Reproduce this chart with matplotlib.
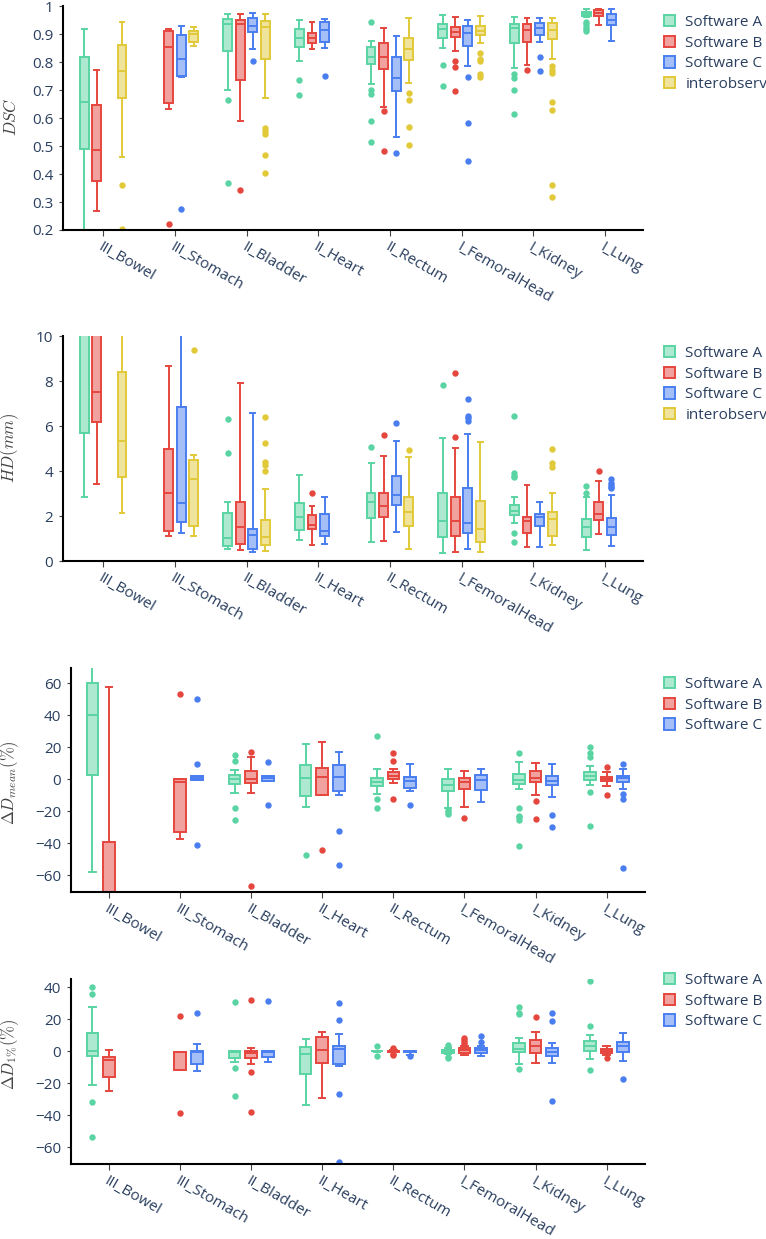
import matplotlib
matplotlib.use("Agg")
import matplotlib.pyplot as plt
from matplotlib.patches import Patch
from matplotlib.colors import to_rgba

plt.rcParams['font.family'] = ['Open Sans', 'DejaVu Sans']

categories = ["III_Bowel", "III_Stomach", "II_Bladder", "II_Heart",
              "II_Rectum", "I_FemoralHead", "I_Kidney", "I_Lung"]
names4 = ["Software A", "Software B", "Software C", "interobserv"]
colors = ["#5ad4a2", "#e5463e", "#4a7ef0", "#e2c93a"]

# each box: (lower whisker, q1, median, q3, upper whisker)
# ---- DSC ----
dsc_a = [(0.05, 0.489, 0.656, 0.817, 0.917), None,
         (0.700, 0.840, 0.935, 0.952, 0.972), (0.804, 0.852, 0.885, 0.918, 0.951),
         (0.720, 0.793, 0.819, 0.855, 0.875), (0.849, 0.887, 0.917, 0.936, 0.968),
         (0.777, 0.867, 0.920, 0.936, 0.962), (0.960, 0.964, 0.971, 0.979, 0.989)]
dsc_a_out = [[], [], [0.664, 0.367], [0.735, 0.682], [0.944, 0.700, 0.685, 0.59, 0.515],
             [0.788, 0.714], [0.757, 0.742, 0.700, 0.613], [0.944, 0.935, 0.926, 0.918, 0.91]]
dsc_b = [(0.269, 0.375, 0.486, 0.646, 0.771), (0.632, 0.655, 0.852, 0.911, 0.917),
         (0.590, 0.736, 0.935, 0.950, 0.972), (0.845, 0.867, 0.885, 0.905, 0.942),
         (0.640, 0.774, 0.819, 0.869, 0.920), (0.840, 0.890, 0.908, 0.926, 0.960),
         (0.789, 0.873, 0.914, 0.935, 0.956), (0.932, 0.964, 0.976, 0.986, 0.988)]
dsc_b_out = [[], [0.221], [0.342], [], [0.625, 0.483], [0.805, 0.782, 0.696], [0.771], []]
dsc_c = [None, (0.748, 0.750, 0.810, 0.898, 0.930),
         (0.845, 0.907, 0.929, 0.957, 0.975), (0.851, 0.873, 0.914, 0.943, 0.955),
         (0.533, 0.696, 0.744, 0.819, 0.894), (0.786, 0.857, 0.905, 0.930, 0.950),
         (0.870, 0.896, 0.920, 0.940, 0.956), (0.876, 0.932, 0.950, 0.971, 0.989)]
dsc_c_out = [[], [0.276], [0.804], [0.751], [0.474], [0.745, 0.583, 0.448], [0.817, 0.768], []]
dsc_d = [(0.460, 0.670, 0.769, 0.861, 0.942), (0.857, 0.870, 0.899, 0.912, 0.924),
         (0.670, 0.811, 0.926, 0.948, 0.970), None,
         (0.724, 0.807, 0.845, 0.887, 0.956), (0.869, 0.896, 0.912, 0.930, 0.965),
         (0.810, 0.881, 0.914, 0.940, 0.958), None]
dsc_d_out = [[0.360, 0.202], [], [0.563, 0.553, 0.543, 0.467, 0.405], [],
             [0.688, 0.664, 0.569, 0.502], [0.831, 0.810, 0.804, 0.757, 0.748],
             [0.786, 0.771, 0.760, 0.658, 0.629, 0.361, 0.319], []]

# ---- HD (mm) ----
hd_a = [(2.86, 5.70, 11.0, 14.5, 22.0), None,
        (0.53, 0.67, 1.04, 2.12, 2.61), (0.95, 1.38, 1.96, 2.56, 3.81),
        (0.83, 1.90, 2.62, 3.04, 4.34), (0.34, 1.05, 1.79, 3.04, 5.48),
        (1.67, 2.04, 2.22, 2.49, 2.83), (0.49, 1.05, 1.50, 1.85, 2.85)]
hd_a_out = [[], [], [6.30, 4.79], [], [5.08], [7.82],
            [6.46, 3.90, 3.79, 3.75, 1.23, 0.86], [3.04, 3.35]]
hd_b = [(3.42, 6.16, 7.53, 12.0, 20.0), (1.13, 1.35, 3.04, 4.96, 8.68),
        (0.49, 0.74, 1.51, 2.61, 7.90), (0.71, 1.41, 1.60, 2.03, 2.43),
        (0.90, 1.94, 2.44, 3.04, 4.67), (0.41, 1.11, 1.79, 2.86, 5.01),
        (0.64, 1.23, 1.78, 1.97, 3.38), (1.20, 1.82, 2.07, 2.64, 3.57)]
hd_b_out = [[], [], [], [3.01], [5.59], [8.34, 5.53], [], [4.01]]
hd_c = [None, (1.23, 1.75, 2.60, 6.83, 14.0),
        (0.41, 0.53, 1.16, 1.44, 6.59), (0.74, 1.10, 1.33, 2.07, 2.83),
        (1.29, 2.49, 2.92, 3.79, 5.35), (0.52, 1.23, 1.70, 3.26, 5.64),
        (0.64, 1.57, 1.97, 2.09, 2.64), (0.67, 1.16, 1.53, 1.90, 2.93)]
hd_c_out = [[], [], [], [], [6.15], [7.20, 6.44, 6.34, 6.24], [],
            [3.63, 3.45, 3.38, 3.30, 3.23]]
hd_d = [(2.15, 3.72, 5.33, 8.41, 12.0), (1.11, 1.56, 3.63, 4.49, 4.71),
        (0.44, 0.71, 1.05, 1.82, 3.20), None,
        (0.52, 1.57, 2.19, 2.86, 4.64), (0.39, 0.86, 1.41, 2.68, 5.30),
        (0.71, 1.11, 1.85, 2.16, 3.04), None]
hd_d_out = [[], [9.38], [6.39, 5.24, 4.40, 4.27, 4.01], [], [4.93], [],
            [4.96, 4.34, 4.19], []]

# ---- Delta D_mean (%) ----
mean_a = [(-58.3, 2.3, 40.0, 59.8, 85.0), None,
          (-9.0, -3.1, -0.2, 2.5, 5.6), (-17.3, -10.6, 0.6, 9.0, 21.7),
          (-9.4, -4.2, -1.7, 0.4, 6.0), (-18.3, -7.5, -3.8, -0.2, 6.3),
          (-6.3, -3.3, -0.6, 2.9, 10.8), (-3.8, -0.6, 2.1, 4.2, 8.1)]
mean_a_out = [[], [], [15.0, 11.5, -18.3, -25.6], [-47.5], [26.9, -12.5, -18.3],
              [-19.4, -20.8, -22.1], [16.0, -18.3, -22.9, -23.5, -25.6, -41.7],
              [20.2, 16.0, 14.0, -7.9, -29.4]]
mean_b = [(-130.0, -100.0, -80.0, -39.6, 57.7), (-37.5, -33.3, -2.1, 0.2, 0.2),
          (-9.0, -2.7, -0.2, 5.0, 13.5), (-10.0, -10.0, 1.0, 6.7, 22.9),
          (-2.3, -0.2, 1.9, 4.2, 6.0), (-17.3, -6.5, -2.1, 0.4, 5.0),
          (-10.0, -1.7, 0.4, 5.2, 10.2), (-4.4, -1.3, 0.0, 1.5, 4.4)]
mean_b_out = [[], [52.9], [16.9, -66.7], [-44.4], [16.0, 11.3, -12.5], [-24.6],
              [-13.5, -25.0], [7.7, -10.0]]
mean_c = [None, (-0.6, -0.6, 0.4, 1.7, 1.7),
          (-1.3, -1.0, 0.4, 1.9, 2.1), (-10.0, -7.7, 1.5, 8.5, 16.7),
          (-7.5, -5.8, -1.0, 1.0, 9.4), (-14.2, -6.9, -0.6, 2.5, 6.0),
          (-11.5, -3.8, -1.0, 2.1, 9.4), (-6.3, -1.7, 0.4, 2.1, 6.3)]
mean_c_out = [[], [49.8, 9.6, -41.0], [10.6, -16.0], [-32.5, -53.8], [-16.5], [],
              [-22.5, -30.2], [9.2, -9.4, -12.7, -55.6]]

# ---- Delta D_1% (%) ----
d1_a = [(-21.3, -2.9, 0.2, 11.0, 27.7), None,
        (-7.1, -4.2, -0.4, 0.0, 0.2), (-33.8, -14.4, -2.1, 2.3, 7.5),
        (-0.8, -0.2, -0.2, -0.2, 0.2), (-1.9, -1.0, -0.2, 0.8, 1.7),
        (-8.3, -0.8, 1.3, 5.2, 8.3), (-5.2, 0.0, 3.3, 6.3, 10.0)]
d1_a_out = [[39.8, 35.4, -32.1, -54.0], [], [30.8, -10.4, -28.1], [], [3.3, -3.1],
            [3.5, 2.7, -3.5, -4.4], [27.3, 24.0, 23.1, -11.5], [44.0, 15.6, -11.9]]
d1_b = [(-24.8, -16.0, -5.6, -4.0, 0.6), (-11.9, -11.9, -0.4, -0.4, -0.4),
        (-8.1, -4.2, -1.0, 0.0, 1.7), (-29.6, -7.3, 0.6, 8.5, 12.1),
        (-0.8, -0.8, -0.2, 0.2, 0.4), (-2.7, -1.0, 0.8, 1.9, 3.1),
        (-7.7, -1.0, 3.1, 6.7, 12.1), (-2.5, -1.3, 0.2, 1.3, 3.3)]
d1_b_out = [[], [21.9, -38.5], [31.9, -12.9, -37.9], [], [2.1, 1.3, -1.9, -2.7],
            [7.9, 6.7, 5.8, 4.6], [21.5], [-4.6]]
d1_c = [None, (-12.3, -8.3, -0.4, 0.2, 4.4),
        (-6.7, -3.5, -0.8, 0.0, 0.2), (-9.4, -8.1, 1.0, 3.1, 10.6),
        (-2.7, -0.6, -0.2, 0.2, 0.2), (-3.1, -1.3, 0.4, 1.7, 2.9),
        (-7.3, -3.1, -0.4, 2.1, 4.8), (-6.3, -0.4, 3.1, 5.8, 11.0)]
d1_c_out = [[], [24.0], [31.3], [29.8, 19.4, -26.9, -69.2], [-2.9], [9.4, 5.4],
            [24.0, 19.0, -31.0], [-17.5]]

W, H = 766, 1239
TXT = "#2a3f5f"
FS = 11
fig = plt.figure(figsize=(W / 100, H / 100), dpi=100)


def make_ax(left, top, right, bottom):
    return fig.add_axes([left / W, 1 - bottom / H, (right - left) / W, (bottom - top) / H])


def draw(ax, series, outs, ylim, yticks, yticklabels, xlim):
    n = len(series)
    slot = 0.7 / n
    width = slot * 0.7
    for k, (stats_list, out_list) in enumerate(zip(series, outs)):
        c = colors[k]
        off = -0.35 + slot * (k + 0.5)
        stats, pos = [], []
        for i, st in enumerate(stats_list):
            if st is None:
                continue
            lo, q1, med, q3, hi = st
            stats.append(dict(whislo=lo, q1=q1, med=med, q3=q3, whishi=hi, fliers=out_list[i]))
            pos.append(i + off)
        ax.bxp(stats, positions=pos, widths=width, capwidths=width * 0.55,
               patch_artist=True, manage_ticks=False,
               boxprops=dict(facecolor=to_rgba(c, 0.5), edgecolor=c, linewidth=1.4),
               whiskerprops=dict(color=c, linewidth=1.4),
               capprops=dict(color=c, linewidth=1.4),
               medianprops=dict(color=c, linewidth=1.4),
               flierprops=dict(marker='o', markerfacecolor=c, markeredgecolor='none',
                               markersize=4.6))
    ax.set_xlim(*xlim)
    ax.set_ylim(*ylim)
    ax.set_yticks(yticks)
    ax.set_yticklabels(yticklabels)
    ax.set_xticks(range(len(categories)))
    ax.set_xticklabels(categories, rotation=-30, ha='left', va='top',
                       rotation_mode='anchor')
    for s in ['top', 'right']:
        ax.spines[s].set_visible(False)
    for s in ['left', 'bottom']:
        ax.spines[s].set_color('black')
        ax.spines[s].set_linewidth(1.5)
    ax.tick_params(axis='x', length=4, width=0.8, color='#444444', labelsize=FS,
                   labelcolor=TXT, pad=3)
    ax.tick_params(axis='y', length=3, width=0.8, color='#444444', labelsize=FS,
                   labelcolor=TXT, pad=4)
    handles = [Patch(facecolor=to_rgba(colors[k], 0.5), edgecolor=colors[k],
                     linewidth=1.4, label=(names4[k])) for k in range(n)]
    return handles


def legend(handles, top):
    fig.legend(handles=handles, loc='upper left', bbox_to_anchor=(664 / W, 1 - top / H),
               frameon=False, fontsize=FS, labelcolor=TXT, handlelength=0.75,
               handleheight=0.75, handletextpad=0.65, labelspacing=0.37,
               borderaxespad=0, borderpad=0)


ax1 = make_ax(63, 6, 643, 230)
h = draw(ax1, [dsc_a, dsc_b, dsc_c, dsc_d], [dsc_a_out, dsc_b_out, dsc_c_out, dsc_d_out],
         (0.2, 1.0), [0.2, 0.3, 0.4, 0.5, 0.6, 0.7, 0.8, 0.9, 1.0],
         ["0.2", "0.3", "0.4", "0.5", "0.6", "0.7", "0.8", "0.9", "1"], (-0.56, 7.53))
legend(h, 15)

ax2 = make_ax(63, 336, 643, 561)
h = draw(ax2, [hd_a, hd_b, hd_c, hd_d], [hd_a_out, hd_b_out, hd_c_out, hd_d_out],
         (0, 10), [0, 2, 4, 6, 8, 10], ["0", "2", "4", "6", "8", "10"], (-0.56, 7.53))
legend(h, 346)

ax3 = make_ax(71, 668, 645, 892)
h = draw(ax3, [mean_a, mean_b, mean_c], [mean_a_out, mean_b_out, mean_c_out],
         (-70.6, 69.4), [-60, -40, -20, 0, 20, 40, 60],
         ["\u221260", "\u221240", "\u221220", "0", "20", "40", "60"], (-0.535, 7.54))
legend(h, 677)

ax4 = make_ax(71, 979, 645, 1164)
h = draw(ax4, [d1_a, d1_b, d1_c], [d1_a_out, d1_b_out, d1_c_out],
         (-70.6, 45.0), [-60, -40, -20, 0, 20, 40],
         ["\u221260", "\u221240", "\u221220", "0", "20", "40"], (-0.535, 7.54))
legend(h, 973)

ylabels = [(r"$DSC$", 12, 117), (r"$HD(mm)$", 10, 448),
           (r"$\Delta D_{mean}(\%)$", 10, 783), (r"$\Delta D_{1\%}(\%)$", 10, 1054)]
for txt, x, y in ylabels:
    fig.text(x / W, 1 - y / H, txt, rotation=90, ha='center', va='center',
             fontsize=12, color='#444444', math_fontfamily='cm')

fig.savefig("out.png", dpi=100, facecolor='white')
